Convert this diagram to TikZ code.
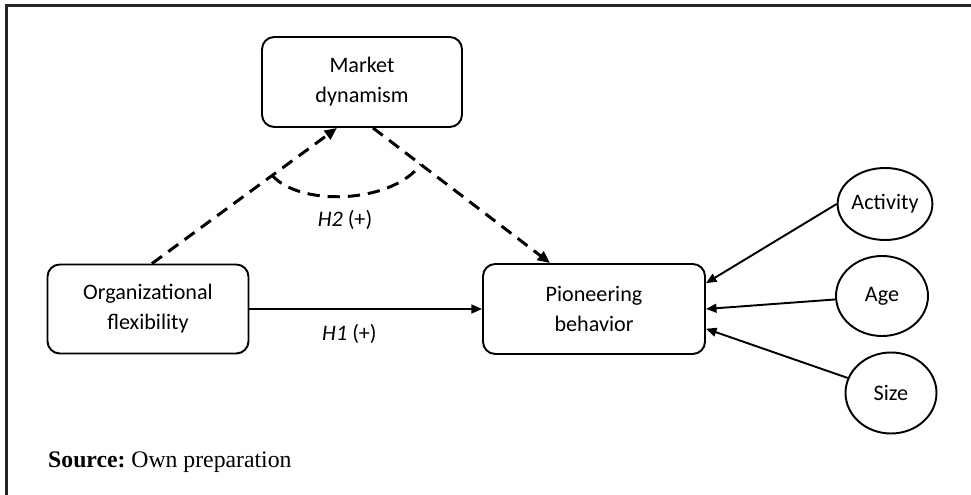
\documentclass[tikz,border=0pt]{standalone}
\usepackage{fontspec}
\setmainfont{Liberation Serif}
\newfontfamily\calibri{Carlito}
\usetikzlibrary{positioning}
\usetikzlibrary{shapes.geometric}
\usetikzlibrary{arrows.meta}

\begin{document}
\begin{tikzpicture}

            \tikzstyle{conceptBox} = [draw, line width=1.1pt, rounded corners=7pt, align=center, inner sep=0pt, font=\calibri\fontsize{12.6}{17}\selectfont];
            \tikzstyle{controlNode} = [draw, ellipse, line width=1.1pt, inner sep=0pt, font=\calibri\fontsize{12.6}{15}\selectfont];
            \tikzstyle{effectArrow} = [line width=1.1pt, -{Triangle[length=6pt,width=5pt]}];
            \tikzstyle{moderatorArrow} = [line width=1.7pt, dash pattern=on 7pt off 4.5pt, -{Triangle[length=7pt,width=6pt]}];
            \tikzstyle{hypLabel} = [font=\calibri\fontsize{12.6}{15}\selectfont];

            \useasboundingbox (0,0) rectangle (19.42,9.9);
            \draw[line width=1.7pt, black!85] (0.13,0) -- (0.13,9.79) -- (19.42,9.79);

            \node[conceptBox, minimum width=4cm, minimum height=1.8cm] (market) at (7.24,8.26) {Market\\dynamism};
            \node[conceptBox, minimum width=4.02cm, minimum height=1.78cm] (flex) at (2.96,3.72) {Organizational\\flexibility};
            \node[conceptBox, minimum width=4.44cm, minimum height=1.8cm] (pioneer) at (11.88,3.72) {Pioneering\\behavior};

            \node[controlNode, minimum width=1.82cm, minimum height=1.44cm] (activity) at (17.70,5.82) {Activity};
            \node[controlNode, minimum width=1.84cm, minimum height=1.6cm] (age) at (17.64,3.98) {Age};
            \node[controlNode, minimum width=1.82cm, minimum height=1.62cm] (size) at (17.82,2.04) {Size};

            \draw[effectArrow] (flex) -- node[hypLabel, pos=0.43, below=5pt] {\textit{H1} (+)} (pioneer);
            \draw[effectArrow] (activity.west) -- (pioneer.13);
            \draw[effectArrow] (age) -- (pioneer.east);
            \draw[effectArrow] (size) -- (pioneer.-10);

            \draw[moderatorArrow] ([xshift=0.08cm]flex.north) -- coordinate[pos=0.65] (arcL) ([xshift=-0.5cm]market.south);
            \draw[moderatorArrow] ([xshift=0.22cm]market.south) -- coordinate[pos=0.27] (arcR) ([xshift=-0.88cm]pioneer.north);
            \draw[line width=1.7pt, dash pattern=on 7pt off 4.5pt] (arcL) .. controls +(0.54,-0.62) and +(-0.6,-0.8) .. (arcR);
            \node[hypLabel] (h2) at (6.90,5.50) {\textit{H2} (+)};

            \node[anchor=base west, font=\fontsize{13.5}{16}\selectfont] (source) at (0.84,0.54) {\textbf{Source:}~Own preparation};
          \end{tikzpicture}
\end{document}
